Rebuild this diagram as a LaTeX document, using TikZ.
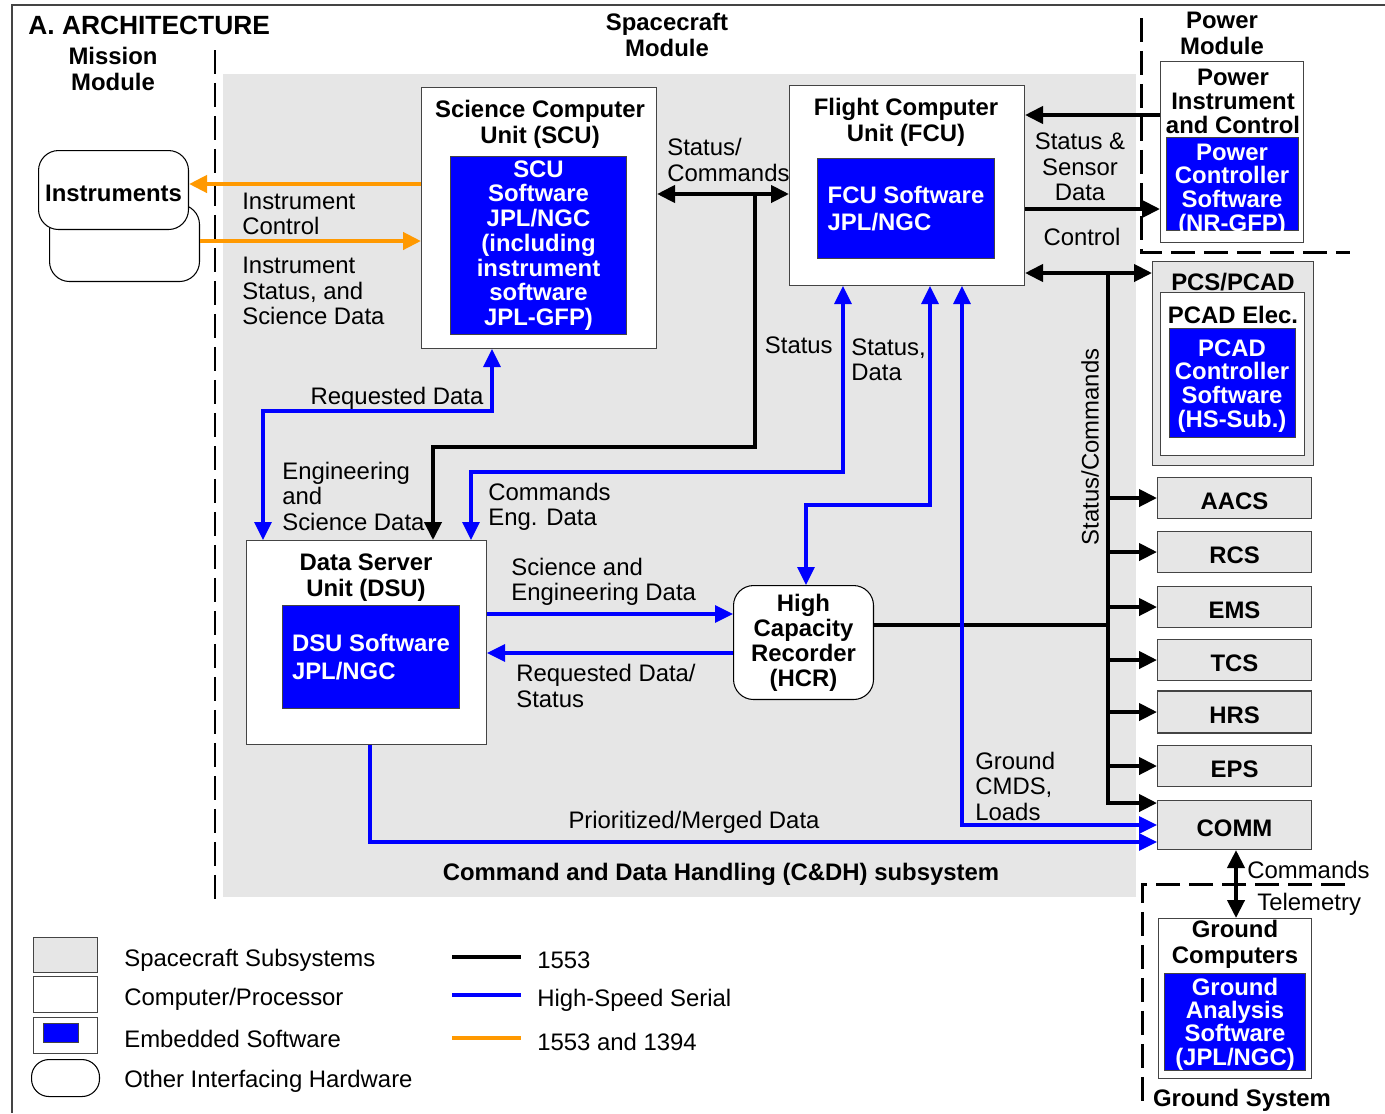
\documentclass[tikz,border=0pt]{standalone}
\usepackage{fontspec}
\setmainfont{Liberation Sans}
\usetikzlibrary{positioning,arrows.meta}
\definecolor{subcol}{HTML}{E6E6E6}
\definecolor{swcol}{HTML}{0000FF}
\definecolor{hsscol}{HTML}{0000FF}
\definecolor{fwcol}{HTML}{FF9900}
\definecolor{edgecol}{HTML}{444444}

\begin{document}
\begin{tikzpicture}[
  x=0.02cm, y=-0.02cm,
  font=\fontsize{13.6}{14.5}\selectfont,
  subsys/.style={draw=edgecol, fill=subcol, line width=0.6pt, inner sep=0pt},
  cpu/.style={draw=edgecol, fill=white, line width=0.6pt, inner sep=0pt},
  sw/.style={draw=edgecol, fill=swcol, text=white, line width=0.6pt, inner sep=0pt,
    align=center, font=\fontsize{13.6}{13.9}\selectfont\bfseries},
  swtext/.style={text=white, inner sep=0pt, align=center, font=\fontsize{13.6}{13.4}\selectfont\bfseries},
  hw/.style={draw=black, fill=white, line width=0.6pt, rounded corners=0.4cm,
    inner sep=0pt, align=center},
  title/.style={font=\fontsize{13.6}{14.7}\selectfont\bfseries, align=center, inner sep=0pt},
  unitbox/.style={subsys, title, anchor=west, minimum width=3.08cm, minimum height=0.82cm,
    text height=13.2pt, text depth=0pt},
  lbl/.style={align=left, inner sep=0pt},
  divider/.style={line width=1.7pt, dash pattern=on 0.48cm off 0.18cm},
  tip/.style={>={Triangle[length=0.36cm, width=0.34cm]}},
  bus/.style={tip, line width=2.3pt, draw=black},
  hss/.style={tip, line width=1.8pt, draw=hsscol},
  fw/.style={tip, line width=2.4pt, draw=fwcol}
]
\useasboundingbox (0,0) rectangle (1385,1113);

% frame and module areas
\draw[edgecol, line width=0.8pt] (1385,5) -- (12,5) -- (12,1113);
\fill[subcol] (223,74) rectangle (1136,897);
\draw[divider] (215,50) -- (215,900);
\draw[divider] (1141,18) -- (1141,252) -- (1350,252);
\draw[divider] (1345,884) -- (1142,884) -- (1142,1102);

\node[title, anchor=west, font=\fontsize{15}{16}\selectfont\bfseries] (arch) at (28,25) {A. ARCHITECTURE};
\node[title] (missionlbl) at (113,69) {Mission\\Module};
\node[title] (craftlbl) at (667,35) {Spacecraft\\Module};
\node[title] (powerlbl) at (1222,33) {Power\\Module};

% mission module
\node[hw, anchor=north west, minimum width=3.00cm, minimum height=1.54cm] (instb) at (49,204) {};
\node[hw, anchor=north west, minimum width=3.00cm, minimum height=1.58cm, text height=13.2pt, text depth=0pt,
  font=\fontsize{13.6}{14.5}\selectfont\bfseries] (instf) at (38,150) {Instruments};

% C&DH computers
\node[cpu, anchor=north west, minimum width=4.70cm, minimum height=5.22cm] (scu) at (421,87) {};
\node[title] (scutitle) at (540,124) {Science Computer\\Unit (SCU)};
\node[sw, anchor=north west, minimum width=3.52cm, minimum height=3.56cm,
  font=\fontsize{13.6}{14.1}\selectfont\bfseries] (scusw) at (450,156)
  {SCU\\Software\\JPL/NGC\\(including\\instrument\\software\\JPL-GFP)};

\node[cpu, anchor=north west, minimum width=4.70cm, minimum height=4.00cm] (fcu) at (789,85) {};
\node[title] (fcutitle) at (906,122) {Flight Computer\\Unit (FCU)};
\node[sw, anchor=north west, minimum width=3.54cm, minimum height=2.00cm, align=left,
  font=\fontsize{13.6}{15.8}\selectfont\bfseries] (fcusw) at (817,158) {FCU Software\\JPL/NGC};

\node[cpu, anchor=north west, minimum width=4.80cm, minimum height=4.08cm] (dsu) at (246,540) {};
\node[title] (dsutitle) at (366,578) {Data Server\\Unit (DSU)};
\node[sw, anchor=north west, minimum width=3.54cm, minimum height=2.06cm, align=left,
  font=\fontsize{13.6}{16.2}\selectfont\bfseries] (dsusw) at (282,605) {DSU Software\\JPL/NGC};

\node[hw, anchor=north west, minimum width=2.80cm, minimum height=2.28cm,
  font=\fontsize{13.6}{14.3}\selectfont\bfseries] (hcr) at (733,585) {High\\Capacity\\Recorder\\(HCR)};

% power module
\node[cpu, anchor=north west, minimum width=2.86cm, minimum height=3.62cm] (pwr) at (1160,61) {};
\node[title, font=\fontsize{13.6}{13.6}\selectfont\bfseries] (pwrtitle) at (1233,101) {Power\\Instrument\\and Control};
\node[sw, anchor=north west, minimum width=2.64cm, minimum height=1.86cm] (pwrsw) at (1166,137) {};
\begin{scope}
  \clip (pwrsw.south west) rectangle (pwrsw.north east);
  \node[swtext] (pwrswtxt) at (1232,190) {Power\\Controller\\Software\\(NR-GFP)};
\end{scope}

% spacecraft subsystems
\node[subsys, anchor=north west, minimum width=3.22cm, minimum height=4.08cm] (pcs) at (1152,261) {};
\node[title] (pcstitle) at (1233,282) {PCS/PCAD};
\node[cpu, anchor=north west, minimum width=2.88cm, minimum height=3.26cm] (pcadel) at (1160,292) {};
\node[title] (pcadtitle) at (1233,315) {PCAD Elec.};
\node[sw, anchor=north west, minimum width=2.52cm, minimum height=2.18cm] (pcadsw) at (1169,328) {};
\node[swtext, font=\fontsize{13.6}{13.6}\selectfont\bfseries] (pcadswtxt) at (1232,386)
  {PCAD\\Controller\\Software\\(HS-Sub.)};

\node[unitbox] (aacs) at (1157,498) {AACS};
\node[unitbox] (rcs) at (1157,552) {RCS};
\node[unitbox] (ems) at (1157,607) {EMS};
\node[unitbox] (tcs) at (1157,660) {TCS};
\node[unitbox, minimum height=0.84cm] (hrs) at (1157,712) {HRS};
\node[unitbox] (eps) at (1157,766) {EPS};
\node[unitbox, minimum height=0.98cm] (comm) at (1157,825) {COMM};

% ground system
\node[cpu, anchor=north west, minimum width=3.06cm, minimum height=3.20cm] (gnd) at (1158,918) {};
\node[title] (gndtitle) at (1235,944) {Ground\\Computers};
\node[sw, anchor=north west, minimum width=2.82cm, minimum height=1.94cm] (gndsw) at (1164,973) {};
\node[swtext, font=\fontsize{13.6}{13.3}\selectfont\bfseries] (gndswtxt) at (1235,1024)
  {Ground\\Analysis\\Software\\(JPL/NGC)};
\node[title] (gndlbl) at (1242,1100) {Ground System};

% 1553 and 1394 links
\draw[fw, ->] (scu.west |- 0,184) -- (instf.east |- 0,184);
\draw[fw, ->] (instb.east |- 0,241) -- (scu.west |- 0,241);

% 1553 bus
\coordinate (cmdjoin) at (755,194);
\coordinate (bustop) at (1108,273);
\draw[bus, <->] (scu.east |- 0,194) -- (fcu.west |- 0,194);
\draw[bus, ->] (cmdjoin) -- (755,447) -| (dsu.north -| 433,0);
\draw[bus, ->] (pwr.west |- 0,115) -- (fcu.east |- 0,115);
\draw[bus, ->] (fcu.east |- 0,209) -- (pwr.west |- 0,209);
\draw[bus, <->] (fcu.east |- 0,273) -- (pcs.west |- 0,273);
\draw[bus, ->] (bustop) -- (bustop |- 0,803) -- (comm.west |- 0,803);
\draw[bus, ->] (aacs.west -| bustop) -- (aacs.west);
\draw[bus, ->] (rcs.west -| bustop) -- (rcs.west);
\draw[bus, ->] (ems.west -| bustop) -- (ems.west);
\draw[bus, ->] (tcs.west -| bustop) -- (tcs.west);
\draw[bus, ->] (hrs.west -| bustop) -- (hrs.west);
\draw[bus, ->] (eps.west -| bustop) -- (eps.west);
\draw[bus] (hcr.east |- 0,625) -- (bustop |- 0,625);
\draw[bus, <->] (comm.south -| 1236,0) -- (gnd.north -| 1236,0);

% high-speed serial links
\draw[hss, <->] (dsu.north -| 263,0) -- (263,411) -| (scu.south -| 492,0);
\draw[hss, <->] (dsu.north -| 471,0) -- (471,472) -| (fcu.south -| 843,0);
\draw[hss, <->] (hcr.north -| 806,0) -- (806,505) -| (fcu.south -| 930,0);
\draw[hss, <->] (fcu.south -| 962,0) -- (962,825) -- (comm.west |- 0,825);
\draw[hss, ->] (dsu.south -| 370,0) |- (comm.west |- 0,842);
\draw[hss, ->] (dsu.east |- 0,614) -- (hcr.west |- 0,614);
\draw[hss, ->] (hcr.west |- 0,653) -- (dsu.east |- 0,653);

% connector labels
\node[lbl, anchor=west] (instctl) at (242,214) {Instrument\\Control};
\node[lbl, anchor=west] (inststat) at (242,291) {Instrument\\Status, and\\Science Data};
\node[lbl, anchor=west] (statcmd) at (667,160) {Status/\\Commands};
\node[lbl, align=center] (sensor) at (1080,167) {Status \&\\Sensor\\Data};
\node[lbl] (control) at (1082,237) {Control};
\node[lbl, rotate=90] (buslbl) at (1090,447) {Status/Commands};
\node[lbl] (reqdata) at (397,398) {Requested Data};
\node[lbl, anchor=west] (engsci) at (282,496) {Engineering\\and\\Science Data};
\node[lbl, anchor=east] (status) at (833,345) {Status};
\node[lbl, anchor=west] (statdata) at (851,360) {Status,\\Data};
\node[lbl, anchor=west] (cmdeng) at (488,507) {Commands\\Eng. Data};
\node[lbl, anchor=west] (scieng) at (511,582) {Science and\\Engineering Data};
\node[lbl, anchor=west] (reqstat) at (516,686) {Requested Data/\\Status};
\node[lbl, anchor=west] (gndcmd) at (975,786) {Ground\\CMDS,\\Loads};
\node[lbl] (merged) at (694,822) {Prioritized/Merged Data};
\node[title] (cdh) at (721,874) {Command and Data Handling (C\&DH) subsystem};
\node[lbl, anchor=west] (uplink) at (1247,870) {Commands};
\node[lbl, anchor=west] (downlink) at (1257,904) {Telemetry};

% legend
\node[subsys, anchor=north west, minimum width=1.28cm, minimum height=0.70cm] (legsub) at (33,937) {};
\node[cpu, anchor=north west, minimum width=1.28cm, minimum height=0.72cm] (legcpu) at (33,976) {};
\node[cpu, anchor=north west, minimum width=1.28cm, minimum height=0.72cm] (legemb) at (33,1017) {};
\node[sw, minimum width=0.70cm, minimum height=0.38cm] (legsw) at (61,1033) {};
\node[hw, anchor=north west, minimum width=1.36cm, minimum height=0.74cm, rounded corners=0.35cm] (leghw) at (31,1059) {};
\node[lbl, anchor=west] (legsubtxt) at (124,960) {Spacecraft Subsystems};
\node[lbl, anchor=west] (legcputxt) at (124,999) {Computer/Processor};
\node[lbl, anchor=west] (legembtxt) at (124,1039) {Embedded Software};
\node[lbl, anchor=west] (leghwtxt) at (124,1081) {Other Interfacing Hardware};
\draw[line width=2pt] (452,957) -- (521,957);
\draw[line width=2pt, hsscol] (452,995) -- (521,995);
\draw[line width=2pt, fwcol] (452,1038) -- (521,1038);
\node[lbl, anchor=west] (legbus) at (537,960) {1553};
\node[lbl, anchor=west] (leghss) at (537,1000) {High-Speed Serial};
\node[lbl, anchor=west] (legfw) at (537,1042) {1553 and 1394};

\end{tikzpicture}
\end{document}
